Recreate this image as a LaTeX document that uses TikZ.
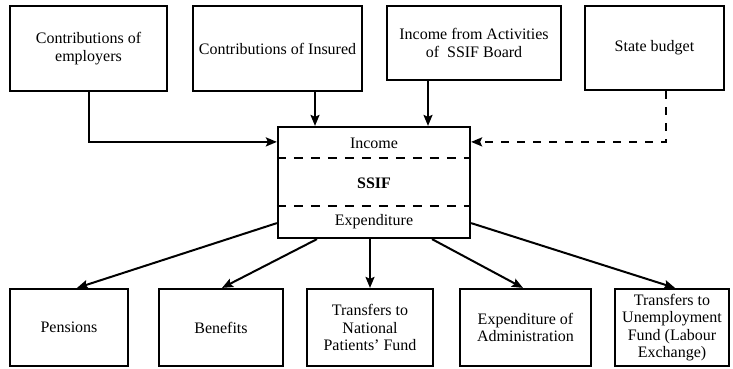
\documentclass[tikz,border=0pt]{standalone}
\usepackage{fontspec}
\setmainfont{Liberation Serif}
\usetikzlibrary{arrows.meta,calc}
\begin{document}
\begin{tikzpicture}[x=1pt,y=-1pt,
  txt/.style={inner sep=0pt, align=center, font=\fontsize{16}{17.5}\selectfont},
  box/.style={txt, draw, line width=2.2pt},
  conn/.style={line width=2pt, -{Stealth[length=11pt,width=9pt,inset=2pt]}},
  dconn/.style={conn, dash pattern=on 8pt off 8pt},
  divider/.style={line width=2pt, dash pattern=on 9pt off 8pt},
]
\useasboundingbox (0,0) rectangle (733,368);
% top row
\node[box, minimum width=157pt, minimum height=85pt] (emp) at (88.5,48.5) {Contributions of\\employers};
\node[box, minimum width=169pt, minimum height=85pt] (ins) at (277.5,48.5) {Contributions of Insured};
\node[box, minimum width=174pt, minimum height=74pt] (act) at (474,43) {Income from Activities\\of\ \ SSIF Board};
\node[box, minimum width=139pt, minimum height=84pt] (state) at (654.5,48) {State budget};
% central box
\node[box, minimum width=192pt, minimum height=111pt] (ssif) at (374,182.5) {};
\node[txt] (inc) at (374,143) {Income};
\node[txt] (ss) at (374,183) {\textbf{SSIF}};
\node[txt] (expd) at (374,222) {Expenditure};
\draw[divider] ([yshift=-32pt]ssif.north west) -- ([yshift=-32pt]ssif.north east);
\draw[divider] ([yshift=33pt]ssif.south west) -- ([yshift=33pt]ssif.south east);
% bottom row
\node[box, minimum width=118pt, minimum height=77pt] (pens) at (69,327.5) {Pensions};
\node[box, minimum width=124pt, minimum height=77pt] (ben) at (221,327.5) {Benefits};
\node[box, minimum width=126pt, minimum height=77pt] (npf) at (370,327.5) {Transfers to\\National\\Patients' Fund};
\node[box, minimum width=131pt, minimum height=77pt] (adm) at (525.5,327.5) {Expenditure of\\Administration};
\node[box, minimum width=114pt, minimum height=77pt] (unemp) at (672,327.5) {Transfers to\\Unemployment\\Fund (Labour\\Exchange)};
% incoming connectors
\draw[conn] (emp.south) |- ([yshift=-16pt]ssif.north west);
\draw[conn] ([xshift=37.5pt]ins.south) -- ([xshift=37.5pt]ins.south |- ssif.north);
\draw[conn] ([xshift=-46pt]act.south) -- ([xshift=-46pt]act.south |- ssif.north);
\draw[dconn] ([xshift=11.5pt]state.south) |- ([yshift=-16pt]ssif.north east);
% outgoing connectors
\draw[conn] ([yshift=16pt]ssif.south west) -- ([xshift=8pt]pens.north);
\draw[conn] ([xshift=-57pt]ssif.south) -- ([xshift=1pt]ben.north);
\draw[conn] (ssif.south -| npf.north) -- (npf.north);
\draw[conn] ([xshift=58pt]ssif.south) -- ([xshift=-2.5pt]adm.north);
\draw[conn] ([yshift=16pt]ssif.south east) -- ([xshift=3pt]unemp.north);
\end{tikzpicture}
\end{document}
